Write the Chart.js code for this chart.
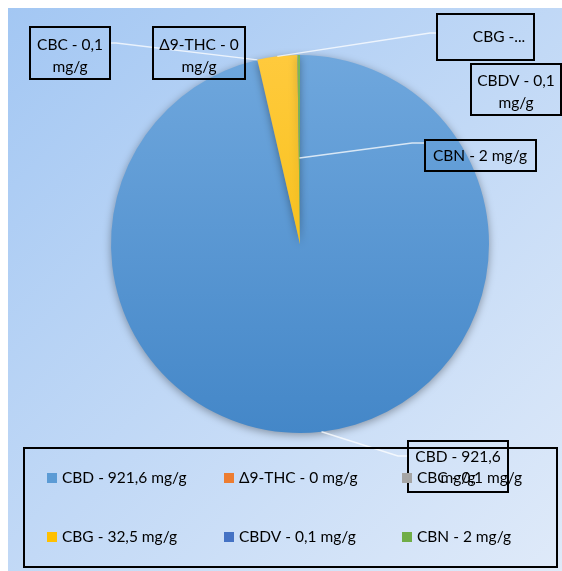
<!DOCTYPE html>
<html>
<head>
<meta charset="utf-8">
<script src="https://cdn.jsdelivr.net/npm/chart.js@4"></script>
<style>
  html, body { margin:0; padding:0; background:#fff; }
  canvas { display:block; }
</style>
</head>
<body>
<canvas id="pie" width="562" height="571"></canvas>
<script>
// data
const names  = ['CBD', 'Δ9-THC', 'CBC', 'CBG', 'CBDV', 'CBN'];
const values = [921.6, 0, 0.1, 32.5, 0.1, 2];
const unit   = 'mg/g';
const colors = ['#5b9bd5', '#ed7d31', '#a5a5a5', '#ffc000', '#4472c4', '#70ad47'];
// top/bottom shades for the slice gradient
const shadeTop    = ['#6fa7dd', '#f08a45', '#b3b3b3', '#ffca3d', '#5280cc', '#7cb955'];
const shadeBottom = ['#4487c8', '#e2701f', '#989898', '#f2bb00', '#3a66b6', '#64a03c'];

(() => {
  const FONT = 'Lato, "Open Sans", sans-serif';
  const fmt = v => String(v).replace('.', ',');
  const fullLabel = i => `${names[i]} - ${fmt(values[i])} ${unit}`;

  // data label boxes (Excel style, some wrapped / truncated)
  // box: [x, y, w, h], text lines, text centre x, leader: [radial frac, elbowX, elbowY, endX, endY] or null
  const labelBoxes = [
    { i:0, box:[408,441,100,51], lines:['CBD - 921,6', 'mg/g'], cx:458, ly:[457,478], lead:[1.0, 398,456, 408,456] },
    { i:1, box:[153,27,92,52],   lines:['Δ9-THC - 0', 'mg/g'],  cx:199, ly:[45,67],  lead:null },
    { i:2, box:[30,27,80,52],    lines:['CBC - 0,1', 'mg/g'],   cx:70,  ly:[45,67],  lead:[1.0, 116,43, 110,43] },
    { i:3, box:[437,14,97,46],   lines:['CBG -...'],            cx:499, ly:[37],     lead:[1.0, 430,33, 437,33] },
    { i:4, box:[471,64,90,51],   lines:['CBDV - 0,1', 'mg/g'],  cx:516, ly:[81,103], lead:null },
    { i:5, box:[425,140,111,31], lines:['CBN - 2 mg/g'],        cx:480, ly:[156],    lead:[0.455, 412,143, 425,143] }
  ];

  const canvas = document.getElementById('pie');
  const ctx = canvas.getContext('2d');

  const background = {
    id:'bg',
    beforeDraw(c) {
      const g = c.ctx;
      const grad = g.createLinearGradient(8, 8, 562, 571);
      grad.addColorStop(0, '#a3c7f3');
      grad.addColorStop(1, '#dfeaf9');
      g.save();
      g.fillStyle = grad;
      g.fillRect(8, 8, 554, 563);
      g.restore();
    },
    beforeDatasetsDraw(c) {
      c.ctx.save();
      c.ctx.shadowColor = 'rgba(0,0,0,0.35)';
      c.ctx.shadowBlur = 9;
      c.ctx.shadowOffsetY = 2;
    },
    afterDatasetsDraw(c) {
      c.ctx.restore();
    }
  };

  const labelsPlugin = {
    id:'boxLabels',
    afterDraw(c) {
      const g = c.ctx;
      const meta = c.getDatasetMeta(0);
      g.save();
      // leader lines
      g.strokeStyle = 'rgba(255,255,255,0.75)';
      g.lineWidth = 1.5;
      labelBoxes.forEach(lb => {
        if (!lb.lead) return;
        const arc = meta.data[lb.i];
        const mid = (arc.startAngle + arc.endAngle) / 2;
        const r = arc.outerRadius * lb.lead[0];
        const px = arc.x + Math.cos(mid) * r, py = arc.y + Math.sin(mid) * r;
        g.beginPath();
        g.moveTo(px, py);
        g.lineTo(lb.lead[1], lb.lead[2]);
        g.lineTo(lb.lead[3], lb.lead[4]);
        g.stroke();
      });
      // boxes + text
      g.font = `15.5px ${FONT}`;
      g.textAlign = 'center';
      g.textBaseline = 'middle';
      labelBoxes.forEach(lb => {
        const [x, y, w, h] = lb.box;
        g.strokeStyle = '#000';
        g.lineWidth = 2;
        g.strokeRect(x, y, w, h);
        g.fillStyle = '#000';
        lb.lines.forEach((t, k) => g.fillText(t, lb.cx, lb.ly[k]));
      });

      // legend: 3 columns x 2 rows in a framed box
      g.strokeStyle = '#000';
      g.lineWidth = 2;
      g.strokeRect(24, 448, 533, 119);
      g.textAlign = 'left';
      const colX = [47, 224, 402], rowY = [478, 537];
      names.forEach((n, i) => {
        const x = colX[i % 3], y = rowY[Math.floor(i / 3)];
        g.fillStyle = colors[i];
        g.fillRect(x, y - 5, 10, 10);
        g.fillStyle = '#000';
        g.fillText(fullLabel(i), x + 15, y);
      });
      g.restore();
    }
  };

  const sliceFill = (cx) => {
    const area = cx.chart.chartArea;
    const i = cx.dataIndex;
    if (!area) return colors[i];
    const grad = cx.chart.ctx.createLinearGradient(0, area.top, 0, area.bottom);
    grad.addColorStop(0, shadeTop[i]);
    grad.addColorStop(1, shadeBottom[i]);
    return grad;
  };

  new Chart(ctx, {
    type:'pie',
    data:{
      labels: names.map((n, i) => fullLabel(i)),
      datasets:[{ data: values, backgroundColor: sliceFill, borderWidth: 0 }]
    },
    options:{
      responsive:false, animation:false, devicePixelRatio:1,
      layout:{ padding:{ top:55, left:111, right:73, bottom:138 } },
      plugins:{ legend:{ display:false }, tooltip:{ enabled:false } }
    },
    plugins:[background, labelsPlugin]
  });
})();
</script>
</body>
</html>
